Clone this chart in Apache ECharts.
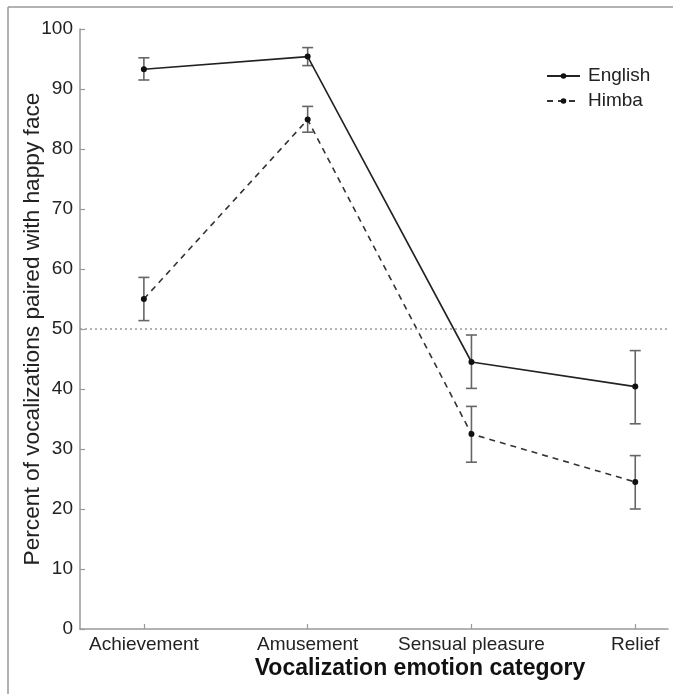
<!DOCTYPE html>
<html>
<head>
<meta charset="utf-8">
<script src="https://cdn.jsdelivr.net/npm/echarts@6/dist/echarts.min.js"></script>
<style>
html,body{margin:0;padding:0;background:#fff;}
#chart{width:673px;height:694px;}
</style>
</head>
<body>
<div id="chart"></div>
<script>
const categories = ['Achievement', 'Amusement', 'Sensual pleasure', 'Relief'];
const englishMean = [93.3, 95.4, 44.5, 40.4];
const englishLow  = [91.5, 93.9, 40.1, 34.2];
const englishHigh = [95.2, 96.9, 49.0, 46.4];
const himbaMean = [55.0, 84.9, 32.5, 24.5];
const himbaLow  = [51.4, 82.8, 27.8, 20.0];
const himbaHigh = [58.6, 87.1, 37.1, 28.9];
const yTicks = [0, 10, 20, 30, 40, 50, 60, 70, 80, 90, 100];
const chanceLevel = 50;

const FONT = 'Liberation Sans, Arial, Helvetica, sans-serif';
const catIdx = categories.map((c, i) => i);

function errData(low, high) {
  return catIdx.map(i => [i, low[i], high[i]]);
}
function errRender(params, api) {
  const x = api.value(0);
  const lo = api.coord([x, api.value(1)]);
  const hi = api.coord([x, api.value(2)]);
  const cap = 5.5;
  const style = { stroke: '#666', lineWidth: 1.6 };
  return {
    type: 'group',
    children: [
      { type: 'line', shape: { x1: lo[0], y1: lo[1], x2: hi[0], y2: hi[1] }, style: style },
      { type: 'line', shape: { x1: lo[0] - cap, y1: lo[1], x2: lo[0] + cap, y2: lo[1] }, style: style },
      { type: 'line', shape: { x1: hi[0] - cap, y1: hi[1], x2: hi[0] + cap, y2: hi[1] }, style: style }
    ]
  };
}

const chart = echarts.init(document.getElementById('chart'), null, { renderer: 'canvas' });
chart.setOption({
  animation: false,
  backgroundColor: '#fff',
  textStyle: { fontFamily: FONT },
  grid: { left: 80, right: 5, top: 29, bottom: 65, containLabel: false },
  legend: {
    orient: 'vertical',
    left: 546,
    top: 66,
    padding: 0,
    itemWidth: 33,
    itemHeight: 7,
    itemGap: 5,
    textStyle: { fontSize: 19, color: '#222', fontFamily: FONT, lineHeight: 20, padding: [0, 0, 0, 3] },
    data: ['English', 'Himba']
  },
  xAxis: {
    type: 'value',
    min: -0.39,
    max: 3.2,
    splitLine: { show: false },
    axisLine: { onZero: false, lineStyle: { color: '#999', width: 1.5 } },
    axisTick: { inside: true, length: 5, customValues: catIdx, lineStyle: { color: '#999', width: 1.2 } },
    axisLabel: {
      customValues: catIdx,
      formatter: v => categories[Math.round(v)] || '',
      fontSize: 19, color: '#222', margin: 6, fontFamily: FONT
    },
    name: 'Vocalization emotion category',
    nameLocation: 'middle',
    nameGap: 28,
    nameMoveOverlap: false,
    nameTextStyle: { fontSize: 23, fontWeight: 'bold', color: '#111', fontFamily: FONT, padding: [0, 0, 0, 92] }
  },
  yAxis: {
    type: 'value',
    min: 0,
    max: 100,
    interval: 10,
    splitLine: { show: false },
    axisLine: { show: true, onZero: false, lineStyle: { color: '#999', width: 1.5 } },
    axisTick: { show: true, inside: true, length: 5, lineStyle: { color: '#999', width: 1.2 } },
    axisLabel: {
      customValues: yTicks,
      fontSize: 19, color: '#222', margin: 7, fontFamily: FONT
    },
    name: 'Percent of vocalizations paired with happy face',
    nameLocation: 'middle',
    nameGap: 36,
    nameMoveOverlap: false,
    nameTextStyle: { fontSize: 22.7, color: '#222', fontFamily: FONT }
  },
  series: [
    {
      type: 'custom',
      name: 'English err',
      renderItem: errRender,
      data: errData(englishLow, englishHigh),
      encode: { x: 0, y: [1, 2] },
      z: 1,
      silent: true
    },
    {
      type: 'custom',
      name: 'Himba err',
      renderItem: errRender,
      data: errData(himbaLow, himbaHigh),
      encode: { x: 0, y: [1, 2] },
      z: 1,
      silent: true
    },
    {
      type: 'line',
      name: 'English',
      data: catIdx.map(i => [i, englishMean[i]]),
      symbol: 'circle',
      symbolSize: 6,
      itemStyle: { color: '#111' },
      lineStyle: { color: '#222', width: 1.6, type: 'solid' },
      z: 3,
      markLine: {
        silent: true,
        symbol: 'none',
        label: { show: false },
        lineStyle: { color: '#999', width: 1.5, type: [2, 3] },
        data: [{ yAxis: chanceLevel }]
      }
    },
    {
      type: 'line',
      name: 'Himba',
      data: catIdx.map(i => [i, himbaMean[i]]),
      symbol: 'circle',
      symbolSize: 6,
      itemStyle: { color: '#111' },
      lineStyle: { color: '#333', width: 1.6, type: [6, 5] },
      z: 3
    }
  ],
  graphic: [
    { type: 'line', shape: { x1: 8, y1: 7, x2: 673, y2: 7 }, style: { stroke: '#999', lineWidth: 1.5 } },
    { type: 'line', shape: { x1: 8, y1: 7, x2: 8, y2: 694 }, style: { stroke: '#999', lineWidth: 1.5 } }
  ]
});
</script>
</body>
</html>
